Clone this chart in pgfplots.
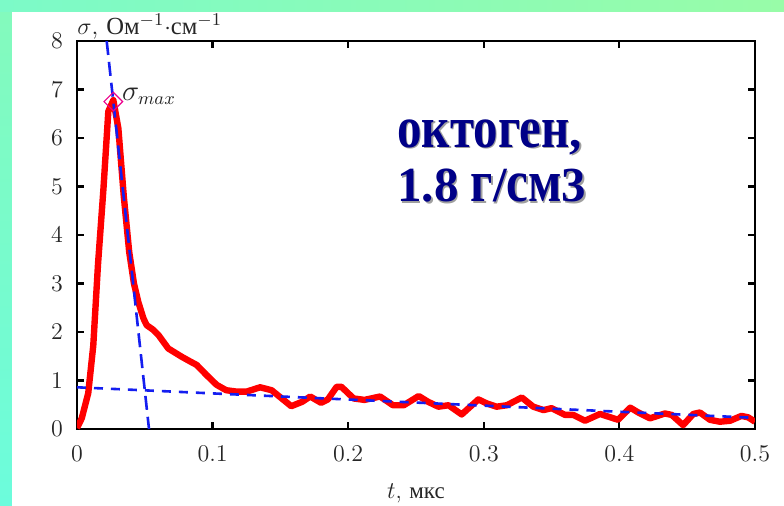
\documentclass[border=0pt]{standalone}
\usepackage{fontspec}
\usepackage{graphicx}
\usepackage{pgfplots}
\pgfplotsset{compat=1.18}
\newfontfamily\cyr{Liberation Serif}
\definecolor{bandtopL}{RGB}{124,250,200}
\definecolor{bandtopR}{RGB}{152,252,168}
\definecolor{bandleftT}{RGB}{132,250,188}
\definecolor{bandleftB}{RGB}{108,252,220}
\definecolor{navytxt}{RGB}{0,0,135}
\definecolor{fitblue}{RGB}{20,30,240}
\newcommand{\tall}[1]{\scalebox{1}[1.2]{#1}}

\begin{document}
\begin{tikzpicture}
\useasboundingbox (-38.5pt,-38pt) rectangle (353.5pt,214.5pt);
\fill[white] (-38.5pt,-38pt) rectangle (353.5pt,214.5pt);
\shade[top color=bandleftT, bottom color=bandleftB] (-38.5pt,-38pt) rectangle (-32.5pt,214.5pt);
\shade[left color=bandtopL, right color=bandtopR] (-38.5pt,209pt) rectangle (353.5pt,214.5pt);

\begin{axis}[
  scale only axis,
  width=339pt, height=194pt,
  at={(0,0)}, anchor=south west,
  xmin=0, xmax=0.5, ymin=0, ymax=8,
  xtick={0,0.1,0.2,0.3,0.4,0.5},
  ytick={0,1,2,3,4,5,6,7,8},
  tick align=inside,
  major tick length=3.5pt,
  axis line style={line width=1.1pt},
  major tick style={line width=1.1pt, black},
  tick label style={font=\fontsize{11.5}{13}\selectfont, black!85},
  xticklabel style={yshift=-5pt},
  yticklabel style={xshift=-3.5pt},
  every axis x label/.style={at={(axis description cs:0.5,0)}, anchor=base, yshift=-34.5pt, font=\fontsize{11.5}{13}\selectfont, black!85},
  every axis y label/.style={at={(axis description cs:0,1)}, anchor=base west, yshift=3.5pt, inner sep=0pt, font=\fontsize{12.3}{14}\selectfont, black!85},
  xlabel={$t$, {\cyr мкс}},
  ylabel={$\sigma$, {\cyr Ом}$^{-1}{\cdot}${\cyr см}$^{-1}$},
]
% measured conductivity
\addplot[red, line width=3.2pt, line join=round] coordinates {
  (0,0.02) (0.0035,0.22) (0.0083,0.74) (0.012,1.72) (0.0155,3.40)
  (0.0195,4.95) (0.0231,6.55) (0.0268,6.78) (0.0305,6.20) (0.0345,4.80)
  (0.0385,3.65) (0.0420,3.00) (0.0452,2.62) (0.0490,2.28) (0.0514,2.14)
  (0.0560,2.05) (0.0600,1.94) (0.0673,1.66) (0.0772,1.49) (0.0830,1.40)
  (0.0883,1.32) (0.0956,1.11) (0.1030,0.91) (0.1100,0.80) (0.1180,0.77)
  (0.1250,0.77) (0.1350,0.86) (0.1435,0.80) (0.1510,0.63) (0.1580,0.47)
  (0.1660,0.56) (0.1720,0.67) (0.1800,0.54) (0.1850,0.61) (0.1915,0.87)
  (0.1950,0.87) (0.2040,0.63) (0.2120,0.60) (0.2235,0.67) (0.2330,0.49)
  (0.2410,0.49) (0.2520,0.68) (0.2590,0.56) (0.2665,0.46) (0.2740,0.49)
  (0.2837,0.30) (0.2960,0.61) (0.3020,0.53) (0.3095,0.46) (0.3170,0.49)
  (0.3280,0.65) (0.3365,0.46) (0.3440,0.39) (0.3500,0.43) (0.3600,0.29)
  (0.3660,0.29) (0.3746,0.17) (0.3857,0.31) (0.3990,0.19) (0.4080,0.44)
  (0.4140,0.34) (0.4226,0.22) (0.4336,0.32) (0.4386,0.29) (0.4470,0.08)
  (0.4545,0.31) (0.4594,0.34) (0.4668,0.19) (0.4740,0.15) (0.4816,0.17)
  (0.4900,0.27) (0.4950,0.24) (0.5000,0.15)
};
% fitted lines
\addplot[fitblue, line width=1.3pt, dash pattern=on 7pt off 3.5pt] coordinates {(0.0219,8) (0.0531,0)};
\addplot[fitblue, line width=1.3pt, dash pattern=on 4.5pt off 4pt] coordinates {(0,0.86) (0.5,0.23)};
% maximum
\addplot[magenta, only marks, mark=square, mark size=3.3pt, mark options={rotate=45, line width=0.6pt}] coordinates {(0.0268,6.75)};
\node[anchor=base west, inner sep=0pt, xshift=4.2pt, yshift=0.8pt, font=\fontsize{13.5}{16}\selectfont, black!85] at (axis cs:0.0268,6.75) {$\sigma_{max}$};
\end{axis}

\begin{scope}[font=\fontsize{24.5}{27}\selectfont\cyr\bfseries]
\node[anchor=base west, inner sep=0pt, gray!75] at (160.7pt,140.3pt) {\tall{октоген},};
\node[anchor=base west, inner sep=0pt, gray!75] at (160.7pt,113pt) {1.8 \tall{г}/\tall{см}3};
\node[anchor=base west, inner sep=0pt, navytxt] at (160pt,141pt) {\tall{октоген},};
\node[anchor=base west, inner sep=0pt, navytxt] at (160pt,113.7pt) {1.8 \tall{г}/\tall{см}3};
\end{scope}
\end{tikzpicture}
\end{document}
